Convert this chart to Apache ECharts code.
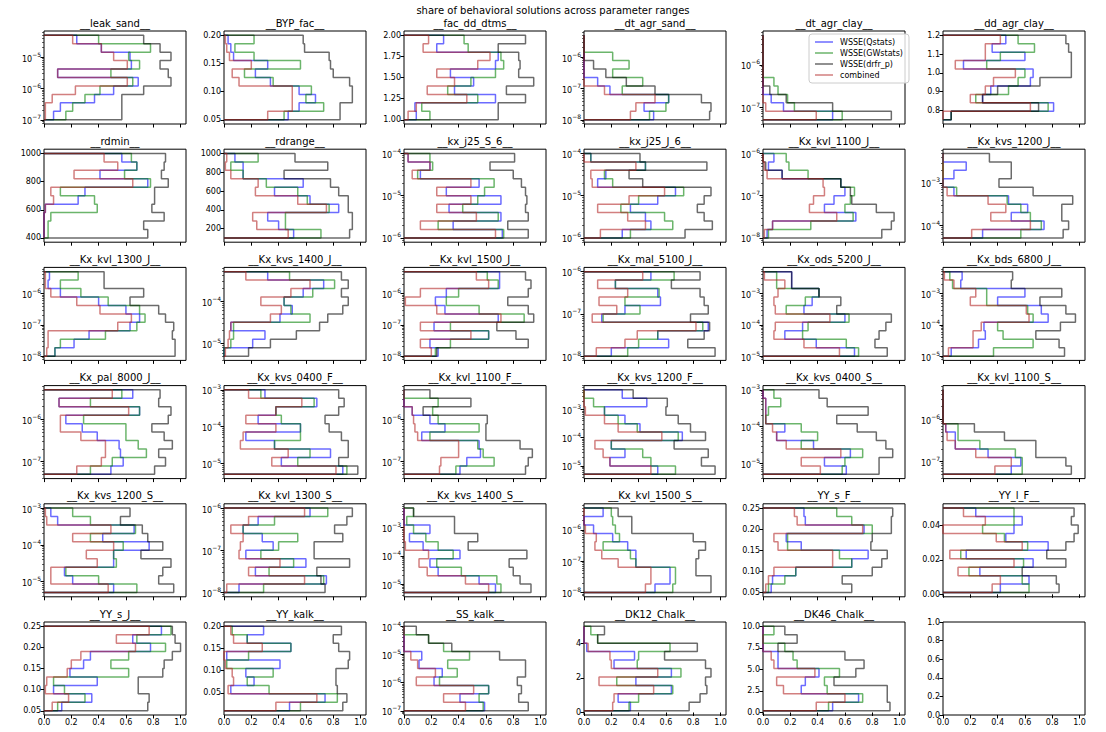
<!DOCTYPE html>
<html><head><meta charset="utf-8">
<script src="https://cdn.jsdelivr.net/npm/echarts@6/dist/echarts.min.js"></script>
<style>html,body{margin:0;padding:0;background:#fff}#c{width:1106px;height:732px}</style>
</head><body><div id="c"></div><script>
const mainTitle = 'share of behavioral solutions across parameter ranges';
const seriesNames = ['WSSE(Qstats)','WSSE(GWstats)','WSSE(drfr_p)','combined'];
const titles = ['__leak_sand__','__BYP_fac__','__fac_dd_dtms__','__dt_agr_sand__','__dt_agr_clay__','__dd_agr_clay__',
'__rdmin__','__rdrange__','__kx_j25_S_6__','__kx_j25_J_6__','__Kx_kvl_1100_J__','__Kx_kvs_1200_J__',
'__Kx_kvl_1300_J__','__Kx_kvs_1400_J__','__Kx_kvl_1500_J__','__Kx_mal_5100_J__','__Kx_ods_5200_J__','__Kx_bds_6800_J__',
'__Kx_pal_8000_J__','__Kx_kvs_0400_F__','__Kx_kvl_1100_F__','__Kx_kvs_1200_F__','__Kx_kvs_0400_S__','__Kx_kvl_1100_S__',
'__Kx_kvs_1200_S__','__Kx_kvl_1300_S__','__Kx_kvs_1400_S__','__Kx_kvl_1500_S__','__YY_s_F__','__YY_l_F__',
'__YY_s_J__','__YY_kalk__','__SS_kalk__','__DK12_Chalk__','__DK46_Chalk__'];
const logScale = [1,0,0,1,1,0, 0,0,1,1,1,1, 1,1,1,1,1,1, 1,1,1,1,1,1, 1,1,1,1,0,0, 0,0,1,0,0];
const binLo = [1e-7,0.05,1.0,1e-8,5e-8,0.75, 400,100,1e-6,1e-6,1e-8,5e-5, 1e-8,5e-6,1e-8,1e-8,1e-5,1e-5,
5e-8,5e-6,5e-8,5e-6,5e-6,5e-8, 5e-6,1e-8,5e-6,1e-8,0.05,0.001, 0.05,0.01,1e-7,0.1,0.2];
const binHi = [5e-5,0.20,2.0,5e-6,5e-6,1.2, 1000,1000,1e-4,1e-4,1e-6,5e-3, 5e-6,5e-4,5e-6,1e-6,5e-3,5e-3,
5e-6,1e-3,5e-6,5e-3,1e-3,5e-6, 1e-3,1e-6,5e-3,5e-6,0.25,0.05, 0.25,0.20,1e-4,5.0,10.0];
const yTicks = [[1e-7,1e-6,1e-5],[0.05,0.10,0.15,0.20],[1.00,1.25,1.50,1.75,2.00],[1e-8,1e-7,1e-6],[1e-7,1e-6],[0.8,0.9,1.0,1.1,1.2],
[400,600,800,1000],[200,400,600,800,1000],[1e-6,1e-5,1e-4],[1e-6,1e-5,1e-4],[1e-8,1e-7,1e-6],[1e-4,1e-3],
[1e-8,1e-7,1e-6],[1e-5,1e-4],[1e-8,1e-7,1e-6],[1e-8,1e-7,1e-6],[1e-5,1e-4,1e-3],[1e-5,1e-4,1e-3],
[1e-7,1e-6],[1e-5,1e-4,1e-3],[1e-7,1e-6],[1e-5,1e-4,1e-3],[1e-5,1e-4,1e-3],[1e-7,1e-6],
[1e-5,1e-4,1e-3],[1e-8,1e-7,1e-6],[1e-5,1e-4,1e-3],[1e-8,1e-7,1e-6],[0.05,0.10,0.15,0.20,0.25],[0.00,0.02,0.04],
[0.05,0.10,0.15,0.20,0.25],[0.05,0.10,0.15,0.20],[1e-7,1e-6,1e-5,1e-4],[0,2,4],[0,2.5,5,7.5,10],
[0,0.2,0.4,0.6,0.8,1.0]];
const yDecimals = [null,2,2,null,null,1, 0,0,null,null,null,null, null,null,null,null,null,null,
null,null,null,null,null,null, null,null,null,null,2,2, 2,2,null,0,1, 1];
const xTicks = [0,0.2,0.4,0.6,0.8,1.0];

const qstats = [
[0.07,0.12,0.37,0.51,0.69,0.10,0.64,0.63,0.42,0.24],
[0.47,0.55,0.67,0.55,0.34,0.23,0.32,0.07,0.05,0.03],
[0.09,0.08,0.67,0.37,0.51,0.34,0.67,0.69,0.24,0.29],
[0.51,0.44,0.62,0.19,0.10,0,0,0,0,0],
[0.51,0.15,0.06,0,0,0,0,0,0,0],
[0.06,0.81,0.29,0.35,0.64,0.66,0.15,0.60,0.36,0.46],
[0,0,0,0.01,0.25,0.30,0.76,0.41,0.68,0.57],
[0.51,0.40,0.32,0.84,0.63,0.37,0.58,0.14,0.14,0.08],
[0.72,0.36,0.71,0.33,0.71,0.31,0.55,0.12,0.19,0.03],
[0.28,0.49,0.45,0.34,0.54,0.67,0.10,0.16,0.45,0.05],
[0.03,0.07,0.68,0.45,0.52,0.60,0.57,0.14,0.04,0.08],
[0.29,0.74,0.50,0.62,0.48,0.08,0,0.08,0.17,0],
[0.08,0.22,0.33,0.63,0.70,0.60,0.40,0.12,0.03,0.04],
[0.00,0.21,0.30,0.05,0.41,0.50,0.44,0.58,0.73,0.32],
[0.25,0.19,0.62,0.22,0.69,0.30,0.23,0.31,0.70,0.70],
[0.20,0.62,0.54,0.91,0.13,0.30,0.56,0.54,0.23,0.49],
[0.67,0.39,0.16,0.29,0.60,0.30,0.36,0.41,0.21,0.21],
[0.06,0.26,0.31,0.30,0.77,0.72,0.40,0.60,0.13,0.14],
[0.49,0.58,0.56,0.55,0.39,0.28,0.16,0.70,0.11,0.65],
[0.87,0.42,0.78,0.37,0.16,0.56,0.25,0.38,0.68,0.30],
[0.41,0.46,0.56,0.55,0.13,0.30,0.19,0.06,0,0],
[0.54,0.19,0.30,0.20,0.72,0.41,0.30,0.15,0.46,0.28],
[0.61,0.45,0.64,0.37,0.10,0.16,0.02,0.02,0.02,0],
[0.50,0.57,0.33,0.09,0.09,0.02,0,0,0,0],
[0.51,0.21,0.15,0.51,0.51,0.77,0.43,0.66,0.10,0.05],
[0.11,0.75,0.23,0.60,0.16,0.36,0.28,0.14,0.25,0.63],
[0.67,0.55,0.25,0.19,0.41,0.14,0.04,0.19,0,0],
[0.52,0.63,0.63,0.38,0.38,0.32,0.21,0.07,0,0.14],
[0.06,0.07,0.24,0.65,0.77,0.28,0.17,0.74,0.31,0.30],
[0.42,0.63,0.27,0.66,0.17,0.77,0.46,0.52,0.58,0.24],
[0.13,0.35,0.07,0.39,0.19,0.29,0.34,0.78,0.65,0.86],
[0.48,0.74,0.05,0.22,0.16,0.41,0.02,0.49,0.17,0.29],
[0.59,0.41,0.62,0.22,0.28,0.11,0.13,0,0,0],
[0.34,0.25,0.64,0.38,0.64,0.22,0.37,0.02,0,0],
[0.51,0.70,0.28,0.31,0.41,0.11,0.11,0,0,0]];

const gwstats = [
[0.16,0.21,0.30,0.41,0.65,0.49,0.70,0.62,0.78,0.40],
[0.44,0.73,0.60,0.64,0.36,0.15,0.56,0.22,0.08,0.22],
[0.19,0.13,0.54,0.32,0.49,0.67,0.73,0.71,0.47,0.44],
[0.48,0.60,0.62,0.28,0.43,0.21,0.33,0.21,0,0],
[0.58,0.23,0.18,0.11,0.08,0,0,0,0,0],
[0.06,0.77,0.24,0.48,0.55,0.60,0.32,0.42,0.67,0.55],
[0.03,0.03,0.05,0.39,0.37,0.12,0.78,0.59,0.68,0.64],
[0.71,0.45,0.45,0.77,0.61,0.54,0.31,0.14,0.05,0.25],
[0.73,0.25,0.69,0.43,0.54,0.59,0.66,0.10,0.21,0.19],
[0.34,0.65,0.59,0.27,0.40,0.73,0.21,0.15,0.45,0.05],
[0.04,0.35,0.66,0.60,0.64,0.67,0.57,0.33,0.19,0.17],
[0.57,0.72,0.64,0.57,0.47,0.10,0,0,0,0],
[0.08,0.12,0.45,0.68,0.74,0.70,0.47,0.27,0.12,0.25],
[0.00,0.05,0.07,0.07,0.63,0.49,0.44,0.65,0.81,0.48],
[0.23,0.34,0.62,0.34,0.88,0.55,0.31,0.40,0.69,0.61],
[0.32,0.40,0.54,0.87,0.14,0.41,0.30,0.55,0.23,0.66],
[0.70,0.61,0.29,0.33,0.63,0.17,0.31,0.41,0.10,0.10],
[0.37,0.66,0.44,0.40,0.66,0.62,0.32,0.32,0.07,0.05],
[0.34,0.50,0.75,0.69,0.60,0.60,0.29,0.70,0.34,0.57],
[0.90,0.54,0.63,0.37,0.56,0.56,0.42,0.38,0.66,0.27],
[0.38,0.66,0.58,0.54,0.19,0.55,0.25,0.21,0.25,0],
[0.67,0.49,0.43,0.20,0.69,0.39,0.25,0.15,0.07,0],
[0.58,0.60,0.73,0.28,0.40,0.28,0.02,0.04,0.13,0.08],
[0.58,0.58,0.53,0.27,0.11,0.11,0,0,0,0],
[0.68,0.40,0.16,0.53,0.51,0.58,0.34,0.67,0.34,0.21],
[0.29,0.73,0.33,0.51,0.27,0.40,0.54,0.14,0.37,0.76],
[0.71,0.68,0.42,0.24,0.36,0.25,0.16,0.07,0.02,0.07],
[0.65,0.67,0.67,0.38,0.34,0.14,0.26,0.23,0.21,0.20],
[0.04,0.16,0.24,0.65,0.56,0.18,0.18,0.80,0.65,0.54],
[0.63,0.58,0.19,0.59,0.13,0.62,0.45,0.29,0.52,0.52],
[0.10,0.30,0.15,0.07,0.62,0.49,0.62,0.89,0.68,0.93],
[0.56,0.83,0.33,0.17,0.36,0.02,0.18,0.49,0.17,0.06],
[0.58,0.55,0.62,0.26,0.39,0.32,0.48,0.29,0.18,0],
[0.33,0.40,0.65,0.24,0.71,0.39,0.40,0.63,0.10,0.05],
[0.48,0.73,0.47,0.45,0.56,0.25,0.22,0.16,0.00,0.08]];

const drfr = [
[0.57,0.57,0.57,0.73,0.93,0.91,0.85,0.93,0.85,0.73],
[0.85,0.85,0.94,0.94,0.92,0.80,0.78,0.77,0.59,0.58],
[0.69,0.69,0.89,0.75,0.95,0.84,0.85,0.84,0.69,0.89],
[0.92,0.93,0.86,0.52,0.31,0.16,0.07,0,0,0],
[0.94,0.51,0.17,0.05,0,0,0,0,0,0],
[0.06,0.70,0.29,0.40,0.71,0.94,0.94,0.94,0.92,0.90],
[0.76,0.73,0.88,0.79,0.81,0.81,0.91,0.86,0.88,0.89],
[0.92,0.94,0.94,0.91,0.91,0.84,0.78,0.44,0.76,0.52],
[0.91,0.76,0.91,0.89,0.90,0.89,0.86,0.80,0.63,0.81],
[0.74,0.94,0.88,0.83,0.88,0.93,0.43,0.33,0.90,0.41],
[0.87,0.94,0.96,0.83,0.65,0.64,0.57,0.14,0.02,0.00],
[0.88,0.92,0.87,0.87,0.95,0.66,0.41,0.50,0.50,0.34],
[0.96,0.96,0.94,0.95,0.89,0.84,0.63,0.73,0.44,0.44],
[0.18,0.34,0.53,0.70,0.76,0.87,0.91,0.86,0.91,0.86],
[0.24,0.91,0.82,0.68,0.95,0.91,0.76,0.91,0.93,0.89],
[0.96,0.76,0.88,0.92,0.78,0.91,0.88,0.85,0.64,0.85],
[0.91,0.82,0.85,0.90,0.94,0.54,0.57,0.41,0.21,0.21],
[0.89,0.85,0.68,0.86,0.97,0.90,0.71,0.87,0.50,0.51],
[0.81,0.89,0.84,0.94,0.88,0.79,0.91,0.93,0.84,0.85],
[0.98,0.84,0.91,0.91,0.86,0.77,0.74,0.84,0.88,0.84],
[0.89,0.91,0.94,0.85,0.60,0.60,0.61,0.14,0.49,0.19],
[0.96,0.86,0.91,0.66,0.89,0.78,0.69,0.60,0.61,0.36],
[0.85,0.85,0.95,0.90,0.83,0.69,0.54,0.77,0.47,0.41],
[0.94,0.90,0.68,0.68,0.45,0.23,0,0,0,0],
[0.95,0.84,0.87,0.93,0.71,0.87,0.76,0.72,0.56,0.63],
[0.74,0.71,0.68,0.92,0.66,0.66,0.87,0.81,0.90,0.94],
[0.93,0.85,0.80,0.77,0.90,0.47,0.54,0.37,0.37,0.07],
[0.93,0.93,0.82,0.82,0.84,0.89,0.80,0.35,0.35,0.25],
[0.65,0.58,0.80,0.87,0.91,0.79,0.80,0.94,0.94,0.95],
[0.85,0.83,0.58,0.90,0.76,0.90,0.96,0.99,0.94,0.96],
[0.76,0.77,0.69,0.69,0.87,0.88,0.94,1.00,0.96,0.94],
[0.87,0.90,0.83,0.82,0.82,0.91,0.92,0.84,0.80,0.86],
[0.91,0.84,0.86,0.83,0.89,0.89,0.70,0.35,0.18,0.09],
[0.77,0.85,0.90,0.89,0.93,0.89,0.59,0.83,0.10,0.15],
[0.93,0.91,0.91,0.52,0.68,0.74,0.60,0.11,0.25,0.16]];

const combined = [
[0.01,0.01,0.06,0.23,0.61,0.10,0.61,0.51,0.42,0.21],
[0.32,0.50,0.50,0.50,0.11,0.06,0.20,0.04,0.02,0.01],
[0.03,0.09,0.46,0.17,0.37,0.24,0.54,0.63,0.14,0.18],
[0.34,0.38,0.52,0.15,0,0,0,0,0,0],
[0.39,0.02,0,0,0,0,0,0,0,0],
[0.00,0.64,0.20,0.31,0.37,0.53,0.09,0.31,0.31,0.42],
[0,0,0,0.01,0.07,0.05,0.65,0.22,0.54,0.44],
[0.47,0.24,0.21,0.75,0.54,0.23,0.25,0.05,0.01,0.02],
[0.67,0.12,0.53,0.24,0.49,0.24,0.49,0.06,0.19,0.03],
[0.12,0.45,0.32,0.10,0.33,0.59,0.06,0.05,0.38,0.00],
[0.01,0.07,0.54,0.34,0.37,0.45,0.44,0.03,0.01,0.00],
[0.21,0.64,0.35,0.46,0.33,0.03,0,0,0,0],
[0.02,0.03,0.03,0.54,0.64,0.41,0.24,0.05,0.01,0.01],
[0.01,0.03,0.04,0.05,0.34,0.42,0.27,0.49,0.63,0.16],
[0.20,0.12,0.49,0.12,0.71,0.24,0.01,0.12,0.62,0.53],
[0.09,0.30,0.39,0.82,0.06,0.24,0.11,0.32,0.10,0.43],
[0.56,0.30,0.08,0.09,0.49,0.09,0.08,0.11,0.16,0.01],
[0.04,0.22,0.22,0.28,0.63,0.61,0.20,0.24,0.08,0.01],
[0.24,0.42,0.45,0.45,0.27,0.12,0.12,0.62,0.11,0.50],
[0.82,0.35,0.47,0.12,0.14,0.38,0.16,0.38,0.57,0.18],
[0.26,0.27,0.40,0.40,0.10,0.08,0.07,0.06,0,0],
[0.49,0.19,0.14,0.08,0.57,0.25,0.15,0.01,0,0],
[0.42,0.28,0.57,0.17,0.10,0.07,0.02,0.02,0.02,0],
[0.38,0.50,0.24,0.09,0.03,0.02,0,0,0,0],
[0.47,0.05,0.05,0.39,0.31,0.51,0.21,0.49,0.02,0.01],
[0.02,0.59,0.18,0.41,0.11,0.12,0.14,0.05,0.18,0.59],
[0.62,0.45,0.17,0.11,0.18,0.01,0,0,0,0],
[0.45,0.49,0.49,0.25,0.13,0.08,0.09,0.01,0,0],
[0.02,0.04,0.08,0.51,0.51,0.11,0.08,0.73,0.25,0.23],
[0.36,0.42,0.11,0.52,0.05,0.58,0.39,0.00,0.31,0.15],
[0.06,0.18,0.01,0.02,0.17,0.20,0.27,0.67,0.53,0.77],
[0.38,0.68,0.03,0.07,0.06,0.01,0.00,0.28,0.07,0.05],
[0.45,0.29,0.51,0.09,0.23,0.10,0.05,0,0,0],
[0.21,0.22,0.51,0.11,0.54,0.20,0.19,0.03,0,0],
[0.39,0.60,0.15,0.10,0.38,0.08,0.06,0,0,0]];

// ---------- build ----------
const FONT = 'DejaVu Sans';
const colors = ['#0000ff','#008000','#000000','#b22222'];
const LINE_OPACITY = 0.58;
const allVals = [qstats, gwstats, drfr, combined];
const colLeft = [44, 224, 404, 584, 763, 943];
const W = 142, H = 93;
const rowTop = r => 31 + r * 118.2;
const logRich = {
  a:{fontSize:8, fontFamily:FONT, color:'#000', lineHeight:12, verticalAlign:'bottom'},
  b:{fontSize:6, fontFamily:FONT, color:'#000', verticalAlign:'top'}
};

const grids = [], xAxes = [], yAxes = [], series = [], graphics = [];
graphics.push({type:'text', x:553, y:10, style:{text:mainTitle, fontSize:10, fontFamily:FONT, fill:'#000', align:'center', verticalAlign:'middle', textAlign:'center', textVerticalAlign:'middle'}});

for (let i = 0; i < 36; i++) {
  const r = Math.floor(i / 6), c = i % 6;
  const top = rowTop(r), left = colLeft[c];
  grids.push({left:left, top:top, width:W, height:H, show:true, borderColor:'#000', borderWidth:1, backgroundColor:'#fff'});
  const isLog = i < 35 && logScale[i] === 1;
  const f = isLog ? (v => Math.log10(v)) : (v => v);
  let ymin, ymax;
  if (i < 35) {
    const a = f(binLo[i]), b = f(binHi[i]), m = 0.05 * (b - a);
    ymin = a - m; ymax = b + m;
  } else { ymin = 0; ymax = 1; }
  const ticksT = yTicks[i].map(f);
  const dec = yDecimals[i];
  xAxes.push({type:'value', gridIndex:i, min:0, max:1.04, position:'bottom',
    axisLine:{show:false}, splitLine:{show:false},
    axisTick:{show:true, inside:false, length:3.5, lineStyle:{color:'#000', width:1}, customValues:xTicks},
    axisLabel:{show: i >= 30, customValues:xTicks, fontSize:8, fontFamily:FONT, color:'#000', margin:3,
      formatter: v => v.toFixed(1)}});
  yAxes.push({type:'value', gridIndex:i, min:ymin, max:ymax, position:'left',
    axisLine:{show:false}, splitLine:{show:false},
    axisTick:{show:true, inside:false, length:3.5, lineStyle:{color:'#000', width:1}, customValues:ticksT},
    axisLabel:{show:true, customValues:ticksT, fontSize:8, fontFamily:FONT, color:'#000', margin:3,
      rich: isLog ? logRich : undefined,
      formatter: v => isLog ? '{a|10}{b|\u2212' + String(Math.abs(Math.round(v))) + '}' : v.toFixed(dec)}});
  const yIdx = yAxes.length - 1;
  if (isLog) {
    const minors = [];
    for (let k = Math.floor(ymin) - 1; k <= Math.ceil(ymax); k++) {
      for (let mm = 2; mm <= 9; mm++) {
        const v = k + Math.log10(mm);
        if (v > ymin && v < ymax) minors.push(v);
      }
    }
    yAxes.push({type:'value', gridIndex:i, min:ymin, max:ymax, position:'left', offset:0,
      axisLine:{show:false}, splitLine:{show:false},
      axisTick:{show:true, inside:false, length:2, lineStyle:{color:'#000', width:0.6}, customValues:minors},
      axisLabel:{show:false}});
  }
  if (i < 35) {
    const lo = f(binLo[i]), hi = f(binHi[i]);
    const n = qstats[i].length;
    const edges = [];
    for (let j = 0; j <= n; j++) edges.push(lo + (hi - lo) * j / n);
    for (let s = 0; s < 4; s++) {
      const v = allVals[s][i];
      const data = [[0, edges[0]]];
      for (let j = 0; j < n; j++) { data.push([v[j], edges[j]]); data.push([v[j], edges[j + 1]]); }
      data.push([0, edges[n]]);
      series.push({type:'line', name:seriesNames[s], xAxisIndex:i, yAxisIndex:yIdx, data:data,
        symbol:'none', showSymbol:false, silent:true, animation:false,
        color:colors[s], itemStyle:{color:colors[s], opacity:LINE_OPACITY},
        lineStyle:{color:colors[s], width:1.5, opacity:LINE_OPACITY}, z:2+s});
    }
  }
  if (i < 35) {
    graphics.push({type:'text', x:left + W / 2, y:top - 3, style:{text:titles[i], fontSize:10, fontFamily:FONT, fill:'#000', align:'center', verticalAlign:'bottom', textAlign:'center', textVerticalAlign:'bottom'}});
  }
}

const chart = echarts.init(document.getElementById('c'), null, {renderer:'svg', width:1106, height:732});
chart.setOption({
  animation:false,
  backgroundColor:'#fff',
  textStyle:{fontFamily:FONT},
  grid:grids, xAxis:xAxes, yAxis:yAxes, series:series, graphic:graphics,
  legend:{data:seriesNames, orient:'vertical', left:809, top:34, icon:'rect', itemWidth:18, itemHeight:1.5, itemGap:3,
    padding:[4,6,4,6], borderColor:'#cccccc', borderWidth:1, borderRadius:3, backgroundColor:'rgba(255,255,255,0.8)',
    textStyle:{fontSize:8, fontFamily:FONT, color:'#000', padding:[0,0,0,2]}, selectedMode:false}
});
</script></body></html>
